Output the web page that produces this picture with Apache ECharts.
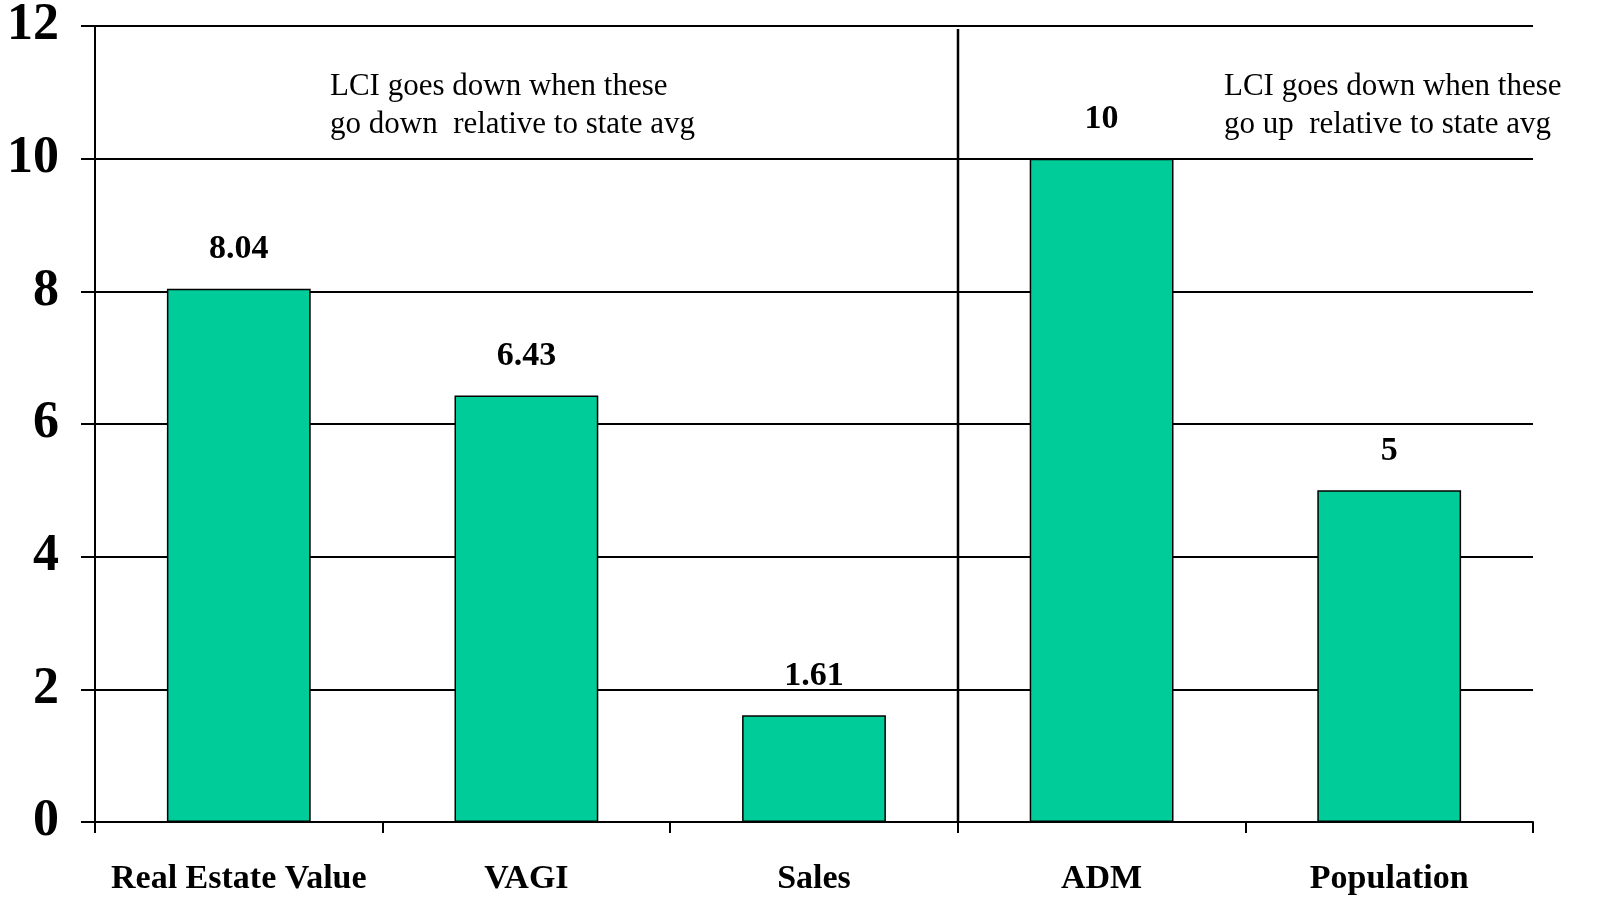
<!DOCTYPE html>
<html><head><meta charset="utf-8">
<script src="https://cdn.jsdelivr.net/npm/echarts@6/dist/echarts.min.js"></script>
<style>html,body{margin:0;padding:0;background:#fff}#c{width:1600px;height:918px}</style>
</head><body><div id="c"></div>
<script>
const categories = ['Real Estate Value', 'VAGI', 'Sales', 'ADM', 'Population'];
const values = [8.04, 6.43, 1.61, 10, 5];
const yTicks = [0, 2, 4, 6, 8, 10, 12];
const labelsText = [
  'LCI goes down when these\ngo down  relative to state avg',
  'LCI goes down when these\ngo up  relative to state avg'
];
const dividerAfter = 'Sales';
const chart = echarts.init(document.getElementById('c'));
const serif = '"Liberation Serif","Times New Roman",serif';
chart.setOption({
  animation: false,
  grid: { left: 95, right: 67, top: 24, bottom: 96 },
  xAxis: {
    type: 'category',
    data: categories,
    axisLine: { lineStyle: { color: '#000', width: 2 } },
    axisTick: { show: true, interval: 0, length: 11, lineStyle: { color: '#000', width: 2 } },
    axisLabel: { interval: 0, color: '#000', fontFamily: serif, fontWeight: 'bold', fontSize: 34, margin: 40 },
    splitLine: { show: false }
  },
  yAxis: {
    type: 'value', min: 0, max: 12, interval: 2,
    axisLine: { show: true, lineStyle: { color: '#000', width: 2 } },
    axisTick: { show: true, length: 14, lineStyle: { color: '#000', width: 2 } },
    axisLabel: { color: '#000', fontFamily: serif, fontWeight: 'bold', fontSize: 52, margin: 36,
      formatter: function (v) { return yTicks.indexOf(v) >= 0 ? String(v) : ''; } },
    splitLine: { show: true, lineStyle: { color: '#000', width: 2 } }
  },
  series: [{
    type: 'bar',
    data: values,
    barWidth: '50%',
    itemStyle: { color: '#00CC99', borderColor: '#000', borderWidth: 1.5 },
    label: { show: true, position: 'top', distance: 22, color: '#000', fontFamily: serif, fontWeight: 'bold', fontSize: 34 }
  }],
  graphic: [
    { type: 'text', left: 330, top: 68, style: { text: labelsText[0], font: '31px ' + serif, fill: '#000', lineHeight: 38 } },
    { type: 'text', left: 1224, top: 68, style: { text: labelsText[1], font: '31px ' + serif, fill: '#000', lineHeight: 38 } }
  ]
});
const i = categories.indexOf(dividerAfter);
const xa = chart.convertToPixel({ xAxisIndex: 0 }, categories[i]);
const xb = chart.convertToPixel({ xAxisIndex: 0 }, categories[i + 1]);
const xd = Math.round((xa + xb) / 2);
const yTop = chart.convertToPixel({ yAxisIndex: 0 }, 12) + 3;
const yBot = chart.convertToPixel({ yAxisIndex: 0 }, 0);
chart.setOption({
  graphic: [
    { type: 'text', left: 330, top: 68, style: { text: labelsText[0], font: '31px ' + serif, fill: '#000', lineHeight: 38 } },
    { type: 'text', left: 1224, top: 68, style: { text: labelsText[1], font: '31px ' + serif, fill: '#000', lineHeight: 38 } },
    { type: 'line', shape: { x1: xd, y1: yTop, x2: xd, y2: yBot }, style: { stroke: '#000', lineWidth: 2.5 } }
  ]
});
</script></body></html>
